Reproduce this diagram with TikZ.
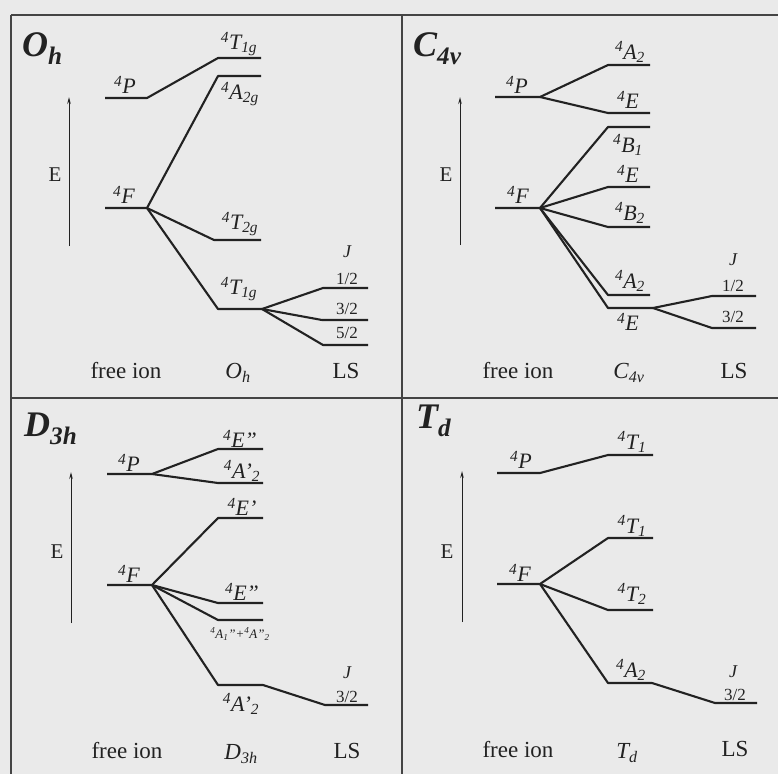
\documentclass[tikz,border=0pt]{standalone}
\usepackage{fontspec}
\setmainfont{Liberation Serif}
\usetikzlibrary{arrows.meta}
\definecolor{paper}{HTML}{EAEAEA}
\definecolor{ink}{HTML}{222222}
\definecolor{frameink}{HTML}{444444}
\newcommand{\sfour}{\textsuperscript{4}}
\begin{document}
\begin{tikzpicture}[x=1pt,y=-1pt,
  lev/.style={draw=ink,line width=2.1pt,line join=round},
  frm/.style={draw=frameink,line width=1.8pt},
  earrow/.style={draw=ink,line width=1pt,-{Stealth[length=7pt,width=3.5pt]}},
  lbl/.style={font=\fontsize{22}{23}\selectfont\itshape,inner sep=0pt,text=ink},
  tiny/.style={font=\fontsize{13}{14}\selectfont\itshape,inner sep=0pt,text=ink},
  jlbl/.style={font=\fontsize{17}{18}\selectfont,inner sep=0pt,text=ink},
  jj/.style={font=\fontsize{18}{19}\selectfont\itshape,inner sep=0pt,text=ink},
  bot/.style={font=\fontsize{23}{25}\selectfont,inner sep=0pt,text=ink},
  boti/.style={font=\fontsize{23}{25}\selectfont\itshape,inner sep=0pt,text=ink},
  ttl/.style={font=\fontsize{36}{38}\selectfont\bfseries\itshape,inner sep=0pt,text=ink,anchor=base west},
  elbl/.style={font=\fontsize{21}{23}\selectfont,inner sep=0pt,text=ink}]
\fill[paper] (0,0) rectangle (778,774);
\useasboundingbox (0,0) rectangle (778,774);
% frame
\coordinate (f1) at (11,15); \coordinate (f2) at (778,15);
\coordinate (f3) at (11,398); \coordinate (f4) at (778,398);
\coordinate (f5) at (11,774); \coordinate (f6) at (402,15); \coordinate (f7) at (402,774);
\draw[frm] (f1)--(f2); \draw[frm] (f3)--(f4); \draw[frm,line width=1.2pt] (f1)--(f5); \draw[frm,line width=1.4pt] (f6)--(f7);

% ================= O_h =================
\coordinate (oP-a) at (105,98); \coordinate (oP-b) at (147,98);
\coordinate (oF-a) at (105,208); \coordinate (oF-b) at (147,208);
\coordinate (oT1u-a) at (218,58); \coordinate (oT1u-b) at (261,58);
\coordinate (oA2g-a) at (218,76); \coordinate (oA2g-b) at (261,76);
\coordinate (oT2g-a) at (214,240); \coordinate (oT2g-b) at (261,240);
\coordinate (oT1g-a) at (218,309); \coordinate (oT1g-b) at (262,309);
\coordinate (oJ1-a) at (323,288); \coordinate (oJ1-b) at (368,288);
\coordinate (oJ3-a) at (322,320); \coordinate (oJ3-b) at (368,320);
\coordinate (oJ5-a) at (323,345); \coordinate (oJ5-b) at (368,345);
\draw[lev] (oP-a)--(oP-b)--(oT1u-a)--(oT1u-b);
\draw[lev] (oF-a)--(oF-b)--(oA2g-a)--(oA2g-b);
\draw[lev] (oF-b)--(oT2g-a)--(oT2g-b);
\draw[lev] (oF-b)--(oT1g-a)--(oT1g-b);
\draw[lev] (oT1g-b)--(oJ1-a)--(oJ1-b);
\draw[lev] (oT1g-b)--(oJ3-a)--(oJ3-b);
\draw[lev] (oT1g-b)--(oJ5-a)--(oJ5-b);
\coordinate (oE-b) at (69,246); \coordinate (oE-t) at (69,97);
\draw[earrow] (oE-b)--(oE-t);
\node[elbl] (oE) at (55,175) {E};
\node[ttl] (oTitle) at (22,56) {O\textsubscript{h}};
\node[lbl] (oPl) at (125,85) {\sfour P};
\node[lbl] (oFl) at (124,195) {\sfour F};
\node[lbl] (oT1ul) at (239,44) {\sfour T\textsubscript{1g}};
\node[lbl] (oA2gl) at (240,94) {\sfour A\textsubscript{2g}};
\node[lbl] (oT2gl) at (240,224) {\sfour T\textsubscript{2g}};
\node[lbl] (oT1gl) at (239,289) {\sfour T\textsubscript{1g}};
\node[jj] (oJ) at (347,252) {J};
\node[jlbl] (oJ1l) at (347,279) {1/2};
\node[jlbl] (oJ3l) at (347,309) {3/2};
\node[jlbl] (oJ5l) at (347,333) {5/2};
\node[bot] (oFree) at (126,371) {free ion};
\node[boti] (oSym) at (238,373) {O\textsubscript{h}};
\node[bot] (oLS) at (346,371) {LS};

% ================= C_4v =================
\coordinate (cP-a) at (495,97); \coordinate (cP-b) at (540,97);
\coordinate (cF-a) at (495,208); \coordinate (cF-b) at (540,208);
\coordinate (cA2u-a) at (608,65); \coordinate (cA2u-b) at (650,65);
\coordinate (cEu-a) at (608,113); \coordinate (cEu-b) at (650,113);
\coordinate (cB1-a) at (608,127); \coordinate (cB1-b) at (650,127);
\coordinate (cEm-a) at (608,187); \coordinate (cEm-b) at (650,187);
\coordinate (cB2-a) at (608,227); \coordinate (cB2-b) at (650,227);
\coordinate (cA2l-a) at (608,295); \coordinate (cA2l-b) at (650,295);
\coordinate (cEl-a) at (608,308); \coordinate (cEl-b) at (653,308);
\coordinate (cJ1-a) at (712,296); \coordinate (cJ1-b) at (756,296);
\coordinate (cJ3-a) at (712,328); \coordinate (cJ3-b) at (756,328);
\draw[lev] (cP-a)--(cP-b)--(cA2u-a)--(cA2u-b);
\draw[lev] (cP-b)--(cEu-a)--(cEu-b);
\draw[lev] (cF-a)--(cF-b)--(cB1-a)--(cB1-b);
\draw[lev] (cF-b)--(cEm-a)--(cEm-b);
\draw[lev] (cF-b)--(cB2-a)--(cB2-b);
\draw[lev] (cF-b)--(cA2l-a)--(cA2l-b);
\draw[lev] (cF-b)--(cEl-a)--(cEl-b);
\draw[lev] (cEl-b)--(cJ1-a)--(cJ1-b);
\draw[lev] (cEl-b)--(cJ3-a)--(cJ3-b);
\coordinate (cE-b) at (460,245); \coordinate (cE-t) at (460,97);
\draw[earrow] (cE-b)--(cE-t);
\node[elbl] (cE) at (446,175) {E};
\node[ttl] (cTitle) at (413,56) {C\textsubscript{4v}};
\node[lbl] (cPl) at (517,85) {\sfour P};
\node[lbl] (cFl) at (518,195) {\sfour F};
\node[lbl] (cA2ul) at (630,52) {\sfour A\textsubscript{2}};
\node[lbl] (cEul) at (628,100) {\sfour E};
\node[lbl] (cB1l) at (628,145) {\sfour B\textsubscript{1}};
\node[lbl] (cEml) at (628,174) {\sfour E};
\node[lbl] (cB2l) at (630,213) {\sfour B\textsubscript{2}};
\node[lbl] (cA2ll) at (630,281) {\sfour A\textsubscript{2}};
\node[lbl] (cEll) at (628,322) {\sfour E};
\node[jj] (cJ) at (733,260) {J};
\node[jlbl] (cJ1l) at (733,286) {1/2};
\node[jlbl] (cJ3l) at (733,317) {3/2};
\node[bot] (cFree) at (518,371) {free ion};
\node[boti] (cSym) at (629,373) {C\textsubscript{4v}};
\node[bot] (cLS) at (734,371) {LS};

% ================= D_3h =================
\coordinate (dP-a) at (107,474); \coordinate (dP-b) at (152,474);
\coordinate (dF-a) at (107,585); \coordinate (dF-b) at (152,585);
\coordinate (dEu-a) at (218,449); \coordinate (dEu-b) at (263,449);
\coordinate (dA2u-a) at (218,483); \coordinate (dA2u-b) at (263,483);
\coordinate (dEp-a) at (218,518); \coordinate (dEp-b) at (263,518);
\coordinate (dEm-a) at (218,603); \coordinate (dEm-b) at (263,603);
\coordinate (dAA-a) at (218,620); \coordinate (dAA-b) at (263,620);
\coordinate (dA2l-a) at (218,685); \coordinate (dA2l-b) at (263,685);
\coordinate (dJ3-a) at (325,705); \coordinate (dJ3-b) at (368,705);
\draw[lev] (dP-a)--(dP-b)--(dEu-a)--(dEu-b);
\draw[lev] (dP-b)--(dA2u-a)--(dA2u-b);
\draw[lev] (dF-a)--(dF-b)--(dEp-a)--(dEp-b);
\draw[lev] (dF-b)--(dEm-a)--(dEm-b);
\draw[lev] (dF-b)--(dAA-a)--(dAA-b);
\draw[lev] (dF-b)--(dA2l-a)--(dA2l-b)--(dJ3-a)--(dJ3-b);
\coordinate (dE-b) at (71,623); \coordinate (dE-t) at (71,472);
\draw[earrow] (dE-b)--(dE-t);
\node[elbl] (dE) at (57,552) {E};
\node[ttl] (dTitle) at (24,436) {D\textsubscript{3h}};
\node[lbl] (dPl) at (129,463) {\sfour P};
\node[lbl] (dFl) at (129,574) {\sfour F};
\node[lbl] (dEul) at (240,439) {\sfour E''};
\node[lbl] (dA2ul) at (242,471) {\sfour A'\textsubscript{2}};
\node[lbl] (dEpl) at (242,507) {\sfour E'};
\node[lbl] (dEml) at (242,592) {\sfour E''};
\node[tiny] (dAAl) at (240,634) {\sfour A\textsubscript{1}''+\sfour A''\textsubscript{2}};
\node[lbl] (dA2ll) at (241,704) {\sfour A'\textsubscript{2}};
\node[jj] (dJ) at (347,673) {J};
\node[jlbl] (dJ3l) at (347,697) {3/2};
\node[bot] (dFree) at (127,751) {free ion};
\node[boti] (dSym) at (241,754) {D\textsubscript{3h}};
\node[bot] (dLS) at (347,751) {LS};

% ================= T_d =================
\coordinate (tP-a) at (497,473); \coordinate (tP-b) at (540,473);
\coordinate (tF-a) at (497,584); \coordinate (tF-b) at (540,584);
\coordinate (tT1u-a) at (608,455); \coordinate (tT1u-b) at (653,455);
\coordinate (tT1m-a) at (608,538); \coordinate (tT1m-b) at (653,538);
\coordinate (tT2-a) at (608,610); \coordinate (tT2-b) at (653,610);
\coordinate (tA2-a) at (608,683); \coordinate (tA2-b) at (652,683);
\coordinate (tJ3-a) at (715,703); \coordinate (tJ3-b) at (757,703);
\draw[lev] (tP-a)--(tP-b)--(tT1u-a)--(tT1u-b);
\draw[lev] (tF-a)--(tF-b)--(tT1m-a)--(tT1m-b);
\draw[lev] (tF-b)--(tT2-a)--(tT2-b);
\draw[lev] (tF-b)--(tA2-a)--(tA2-b)--(tJ3-a)--(tJ3-b);
\coordinate (tE-b) at (462,622); \coordinate (tE-t) at (462,471);
\draw[earrow] (tE-b)--(tE-t);
\node[elbl] (tE) at (447,552) {E};
\node[ttl] (tTitle) at (416,428) {T\textsubscript{d}};
\node[lbl] (tPl) at (521,460) {\sfour P};
\node[lbl] (tFl) at (520,573) {\sfour F};
\node[lbl] (tT1ul) at (632,442) {\sfour T\textsubscript{1}};
\node[lbl] (tT1ml) at (632,526) {\sfour T\textsubscript{1}};
\node[lbl] (tT2l) at (632,594) {\sfour T\textsubscript{2}};
\node[lbl] (tA2l) at (631,670) {\sfour A\textsubscript{2}};
\node[jj] (tJ) at (733,672) {J};
\node[jlbl] (tJ3l) at (735,695) {3/2};
\node[bot] (tFree) at (518,749) {free ion};
\node[boti] (tSym) at (627,753) {T\textsubscript{d}};
\node[bot] (tLS) at (735,749) {LS};
\end{tikzpicture}
\end{document}
